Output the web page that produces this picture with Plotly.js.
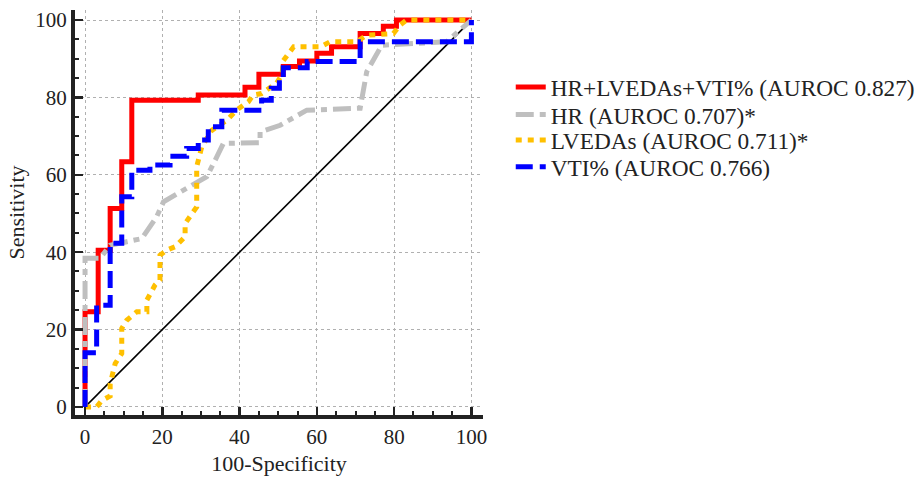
<!DOCTYPE html>
<html>
<head>
<meta charset="utf-8">
<script src="https://cdn.plot.ly/plotly-3.0.1.min.js"></script>
<style>html,body{margin:0;padding:0;background:#fff;}#chart{width:919px;height:481px;}</style>
</head>
<body>
<div id="chart"></div>
<script>
// Combined model HR+LVEDAs+VTI%
const comboX = [0,0,3.4,3.4,6.5,6.5,9.5,9.5,12.1,12.1,29.3,29.3,41.4,41.4,45,45,51.3,51.3,55.5,55.5,60,60,63.8,63.8,71.2,71.2,77.2,77.2,80.6,80.6,90.6,90.6,100];
const comboY = [0,24.6,24.6,40.5,40.5,51.3,51.3,63.4,63.4,79.3,79.3,80.6,80.6,82.6,82.6,86,86,88,88,89.4,89.4,91.4,91.4,93.1,93.1,96.5,96.5,98.4,98.4,100,100,100,100];
// HR
const hrX = [0,0,3.9,6.5,10.8,14.7,18.5,20.3,26.3,31.5,34.1,35.8,45.3,45.3,50.5,57.4,71.2,72.9,76.8,93.6,97,100];
const hrY = [0,38.4,38.4,41.8,42.7,43.5,49.1,53,56.5,59.5,64.6,68.1,68.3,71.1,72.8,76.7,77.2,86.6,93.5,94.4,97.4,100];
// LVEDAs
const lvX = [0,3,4.3,6.5,6.5,7.8,9.5,9.5,10.8,13.4,16,16,18.1,19.4,19.4,21.1,23.3,25.9,25.9,28.9,28.9,30.2,32.8,36.7,39.2,42.3,43.5,45.7,49.6,51,51.3,54,61,63.4,70.3,72.9,79.8,81.5,83.2,100];
const lvY = [0,0,1.6,2.8,6,11.2,13.8,20.3,22.4,24.6,24.6,27.6,31.5,32.8,39.2,40.5,41.4,44,47.4,51.7,62.1,67.2,71.5,74.1,76.7,78.9,80.6,81,83.7,86,89.5,93.1,93.1,94.4,94.4,96.1,96.5,98.7,100,100];
// VTI%
const vtiX = [0,0,3,3,6.5,6.5,9.5,9.5,12.1,12.1,16.8,16.8,22,22,26.3,26.3,29.3,29.3,31.9,31.9,35.4,35.4,45.7,45.7,48.2,48.2,50.3,50.3,51.3,51.3,57.5,57.5,71.2,71.2,100,100];
const vtiY = [0,14,14,26.3,26.3,42.3,42.3,54.3,54.3,61.2,61.2,62.5,62.5,64.8,64.8,66.8,66.8,69,69,72.4,72.4,76.7,76.7,79.3,79.3,82.4,82.4,85,85,87.7,87.7,89.3,89.3,94.4,94.4,100];
// Reference diagonal
const diagX = [0,100];
const diagY = [0,100];

const names = ['HR+LVEDAs+VTI% (AUROC 0.827)','HR (AUROC 0.707)*','LVEDAs (AUROC 0.711)*','VTI% (AUROC 0.766)'];
const tickVals = [0,20,40,60,80,100];
const tickText = ['0','20','40','60','80','100'];

const serif = '"Liberation Serif", "Times New Roman", serif';

const data = [
  {x: diagX, y: diagY, mode:'lines', line:{color:'#000', width:1.6}, showlegend:false, hoverinfo:'skip'},
  {x: comboX, y: comboY, mode:'lines', name:names[0], legend:'legend', line:{color:'#ff0000', width:5}},
  {x: hrX, y: hrY, mode:'lines', name:names[1], legend:'legend2', line:{color:'#bfbfbf', width:5, dash:'18px,6px,6px,6px'}},
  {x: lvX, y: lvY, mode:'lines', name:names[2], legend:'legend3', line:{color:'#ffc000', width:5, dash:'6px,6px'}},
  {x: vtiX, y: vtiY, mode:'lines', name:names[3], legend:'legend4', line:{color:'#0000ff', width:5, dash:'17px,7px'}}
];

const axisCommon = {
  showline:true, linecolor:'#222', linewidth:4, mirror:false,
  ticks:'inside', ticklen:8, tickwidth:2.5, tickcolor:'#222',
  tickvals: tickVals, ticktext: tickText,
  showgrid:true, gridcolor:'#b0b0b0', gridwidth:1, griddash:'dot',
  zeroline:false,
  tickfont:{family:serif, size:21, color:'#222'},
  minor:{ticks:'inside', ticklen:4, tickwidth:2, tickcolor:'#222', dtick:5, tick0:0, showgrid:false}
};

function leg(y){
  return {x:1.068, xanchor:'left', y:y, yanchor:'middle', font:{family:serif, size:23.3, color:'#222'}, bgcolor:'rgba(0,0,0,0)', borderwidth:0};
}

const layout = {
  width:919, height:481,
  margin:{l:75, r:436, t:10, b:66, autoexpand:false},
  paper_bgcolor:'#fff', plot_bgcolor:'#fff',
  font:{family:serif, color:'#222'},
  xaxis: Object.assign({}, axisCommon, {range:[-2.6,103], title:{text:'100-Specificity', font:{family:serif, size:22, color:'#222'}, standoff:8}}),
  yaxis: Object.assign({}, axisCommon, {range:[-2.1,102.6], title:{text:'Sensitivity', font:{family:serif, size:22, color:'#222'}, standoff:6}}),
  legend: leg(0.809),
  legend2: leg(0.741),
  legend3: leg(0.678),
  legend4: leg(0.612),
  showlegend:true
};

Plotly.newPlot('chart', data, layout, {staticPlot:true, displayModeBar:false});
</script>
</body>
</html>
